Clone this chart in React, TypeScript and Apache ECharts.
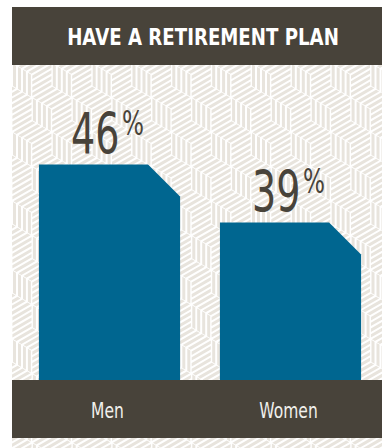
import React, { useEffect, useRef } from "react";
import * as echarts from "echarts";

const categories = ["Men", "Women"];
const values = [46, 39];
const chartTitle = "HAVE A RETIREMENT PLAN";
const axisMin = 20;
const axisMax = 58;

const FONT = '"DejaVu Sans", "Liberation Sans", sans-serif';
const DARK = "#48433a";
const BLUE = "#006690";
const STRIPE = "#e8e4dd";

// decorative isometric cube pattern (background only)
function buildPattern(x0: number, y0: number, x1: number, y1: number): string {
  const s = 23;
  const w = s * Math.sqrt(3);
  const n = 4;
  const g = 0.2;
  let d = "";
  const face = (P: number[], a: number[], b: number[]) => {
    for (let k = 0; k < n; k++) {
      const v0 = (k + g) / n;
      const v1 = (k + 1 - g) / n;
      const u0 = 0.02, u1 = 0.98;
      const pt = (u: number, v: number) =>
        (P[0] + u * a[0] + v * b[0]).toFixed(1) + " " + (P[1] + u * a[1] + v * b[1]).toFixed(1);
      d += "M" + pt(u0, v0) + "L" + pt(u1, v0) + "L" + pt(u1, v1) + "L" + pt(u0, v1) + "Z";
    }
  };
  const rows = Math.ceil((y1 - y0) / (1.5 * s)) + 2;
  const cols = Math.ceil((x1 - x0) / w) + 2;
  for (let r = -1; r < rows; r++) {
    for (let c = -1; c < cols; c++) {
      const cx = x0 + c * w + (r % 2 !== 0 ? w / 2 : 0);
      const cy = y0 + r * 1.5 * s;
      const top = [cx, cy - s];
      const ur = [cx + w / 2, cy - s / 2];
      const ul = [cx - w / 2, cy - s / 2];
      const ctr = [cx, cy];
      const ll = [cx - w / 2, cy + s / 2];
      face(ul, [top[0] - ul[0], top[1] - ul[1]], [ctr[0] - ul[0], ctr[1] - ul[1]]);
      face(ul, [ll[0] - ul[0], ll[1] - ul[1]], [ctr[0] - ul[0], ctr[1] - ul[1]]);
      face(ctr, [ur[0] - ctr[0], ur[1] - ctr[1]], [0, s]);
    }
  }
  return d;
}

export default function App() {
  const ref = useRef<HTMLDivElement>(null);
  useEffect(() => {
    if (!ref.current) return;
    echarts.graphic.registerShape(
      "cubePattern",
      echarts.graphic.extendPath(buildPattern(12, 40, 400, 470), {})
    );
    const chart = echarts.init(ref.current, null, { renderer: "svg" });
    chart.setOption({
      animation: false,
      backgroundColor: "#ffffff",
      grid: { left: 19, right: 1, top: 65, bottom: 68 },
      xAxis: {
        type: "category",
        data: categories,
        axisLine: { show: false },
        axisTick: { show: false },
        axisLabel: { show: false },
      },
      yAxis: {
        type: "value",
        min: axisMin,
        max: axisMax,
        show: false,
        splitLine: { show: false },
      },
      graphic: [
        { type: "cubePattern", x: 0, y: 0, z: -10, silent: true, style: { fill: STRIPE } },
        { type: "rect", z: -9, shape: { x: 0, y: 0, width: 12, height: 448 }, style: { fill: "#ffffff" } },
        { type: "rect", z: -9, shape: { x: 0, y: 0, width: 382, height: 7 }, style: { fill: "#ffffff" } },
        { type: "rect", z: -8, shape: { x: 12, y: 7, width: 382, height: 58 }, style: { fill: DARK } },
        { type: "rect", z: -8, shape: { x: 12, y: 380, width: 382, height: 58 }, style: { fill: DARK } },
        {
          type: "text",
          z: 5,
          x: 203,
          y: 37,
          scaleX: 0.79,
          style: {
            text: chartTitle,
            fill: "#ffffff",
            font: "bold 23px " + FONT,
            align: "center",
            verticalAlign: "middle",
          },
        },
      ],
      series: [
        {
          type: "custom",
          clip: false,
          data: values.map((v, i) => [i, v]),
          encode: { x: 0, y: 1 },
          renderItem: (params: any, api: any) => {
            const idx = api.value(0);
            const val = api.value(1);
            const top = api.coord([idx, val]);
            const base = api.coord([idx, axisMin]);
            const bw = api.size([1, 0])[0] * 0.78;
            const x0 = top[0] - bw / 2;
            const x1 = top[0] + bw / 2;
            const yt = top[1];
            const yb = base[1];
            const c = 32;
            return {
              type: "group",
              children: [
                {
                  type: "polygon",
                  shape: {
                    points: [
                      [x0, yb],
                      [x0, yt],
                      [x1 - c, yt],
                      [x1, yt + c],
                      [x1, yb],
                    ],
                  },
                  style: { fill: BLUE },
                },
                {
                  type: "text",
                  x: top[0] - 2,
                  y: yt - 2,
                  scaleX: 0.68,
                  style: {
                    text: "{n|" + val + "}{p|%}",
                    align: "center",
                    verticalAlign: "bottom",
                    rich: {
                      n: { fontFamily: FONT, fontSize: 56, lineHeight: 56, fill: DARK, color: DARK },
                      p: {
                        fontFamily: FONT,
                        fontSize: 34,
                        lineHeight: 34,
                        verticalAlign: "top",
                        fill: DARK,
                        color: DARK,
                        padding: [0, 0, 0, 4],
                      },
                    },
                  },
                },
                {
                  type: "text",
                  x: top[0] - 2,
                  y: yb + 31,
                  scaleX: 0.74,
                  style: {
                    text: categories[idx],
                    fill: "#f1f0ec",
                    font: "21px " + FONT,
                    align: "center",
                    verticalAlign: "middle",
                  },
                },
              ],
            };
          },
        },
      ],
    });
    return () => chart.dispose();
  }, []);
  return (
    <div
      ref={ref}
      style={{ position: "absolute", left: 0, top: 0, width: 382, height: 448 }}
    />
  );
}
